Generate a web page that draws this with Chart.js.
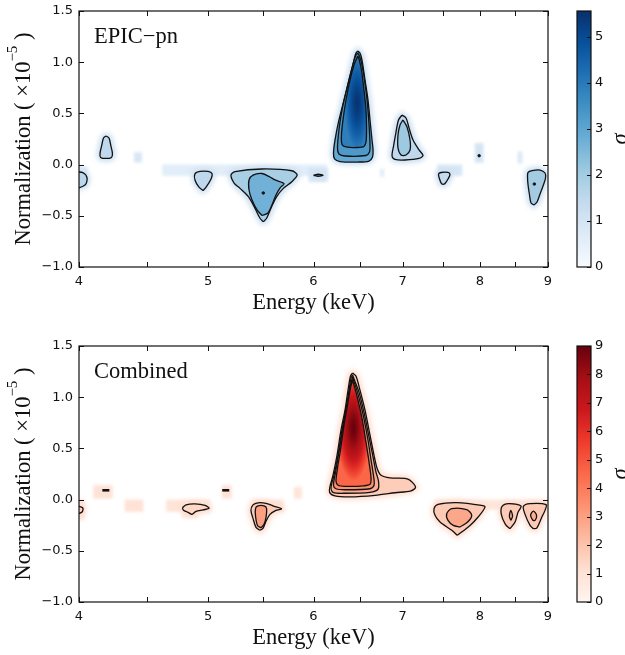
<!DOCTYPE html>
<html>
<head>
<meta charset="utf-8">
<script src="https://cdn.jsdelivr.net/npm/chart.js@4/dist/chart.umd.min.js"></script>
<style>
  body { margin: 0; background: #fff; }
  .panel { position: absolute; left: 0; width: 625px; height: 320px; }
  #pn-panel { top: 0; }
  #comb-panel { top: 335px; }
</style>
</head>
<body>
<div class="panel" id="pn-panel"><canvas id="pn-chart"></canvas></div>
<div class="panel" id="comb-panel"><canvas id="comb-chart"></canvas></div>
<script>
// Axis ticks
const energyTicks = [4, 4.5, 5, 5.5, 6, 6.5, 7, 7.5, 8, 8.5, 9];
const normTicks = [-1.0, -0.5, 0.0, 0.5, 1.0, 1.5];
const pnSigmaTicks = [0, 1, 2, 3, 4, 5];
const combSigmaTicks = [0, 1, 2, 3, 4, 5, 6, 7, 8, 9];
const pnSigmaMax = 5.56;
const combSigmaMax = 9;

// EPIC-pn contours, points are [energy keV, normalization 1e-5]
const pnLine40 = [[3.96,-0.07],[4.03,-0.08],[4.056,-0.13],[4.042,-0.20],[3.96,-0.23]];
const pnLine42 = [[4.191,0.28],[4.213,0.26],[4.227,0.18],[4.238,0.11],[4.231,0.07],[4.191,0.06],[4.152,0.07],[4.148,0.11],[4.159,0.18],[4.173,0.26]];
const pnLine50 = [[4.957,-0.253],[4.922,-0.22],[4.888,-0.15],[4.888,-0.09],[4.931,-0.067],[5.0,-0.067],[5.035,-0.09],[5.026,-0.14],[4.983,-0.22]];
const pnLine55Outer = [[5.501,-0.558],[5.470,-0.524],[5.423,-0.427],[5.361,-0.313],[5.284,-0.232],[5.232,-0.183],[5.202,-0.102],[5.238,-0.069],[5.486,-0.043],[5.779,-0.060],[5.833,-0.102],[5.779,-0.167],[5.695,-0.232],[5.630,-0.313],[5.581,-0.411],[5.533,-0.524]];
const pnLine55Inner = [[5.489,-0.497],[5.442,-0.443],[5.395,-0.346],[5.367,-0.248],[5.367,-0.150],[5.404,-0.102],[5.489,-0.087],[5.565,-0.121],[5.613,-0.150],[5.702,-0.185],[5.662,-0.229],[5.623,-0.297],[5.584,-0.395],[5.546,-0.473]];
const pnLine60 = [[6.00,-0.104],[6.05,-0.094],[6.10,-0.104],[6.05,-0.114]];
const pnLine64Outer = [[6.476,1.109],[6.502,1.090],[6.525,1.021],[6.559,0.826],[6.593,0.631],[6.616,0.436],[6.639,0.240],[6.651,0.143],[6.645,0.074],[6.605,0.035],[6.480,0.025],[6.281,0.030],[6.222,0.055],[6.211,0.113],[6.227,0.240],[6.270,0.436],[6.325,0.631],[6.380,0.826],[6.435,1.021],[6.457,1.090]];
const pnLine64Mid = [[6.476,1.090],[6.496,1.061],[6.525,0.973],[6.553,0.826],[6.582,0.631],[6.605,0.387],[6.616,0.191],[6.610,0.123],[6.570,0.089],[6.336,0.084],[6.270,0.104],[6.254,0.162],[6.270,0.338],[6.303,0.533],[6.358,0.748],[6.413,0.943],[6.452,1.061]];
const pnLine64Inner = [[6.476,1.061],[6.491,1.031],[6.519,0.924],[6.547,0.729],[6.570,0.533],[6.576,0.338],[6.570,0.221],[6.547,0.177],[6.469,0.167],[6.347,0.172],[6.303,0.196],[6.297,0.289],[6.314,0.436],[6.347,0.631],[6.391,0.826],[6.435,0.973],[6.463,1.031]];
const pnLine70Outer = [[6.992,0.484],[7.041,0.455],[7.078,0.357],[7.127,0.240],[7.201,0.143],[7.251,0.089],[7.201,0.060],[7.029,0.045],[6.909,0.050],[6.873,0.084],[6.891,0.182],[6.920,0.318],[6.950,0.436]];
const pnLine70Inner = [[7.004,0.436],[7.053,0.367],[7.090,0.240],[7.090,0.143],[7.041,0.094],[6.980,0.094],[6.944,0.162],[6.944,0.289],[6.968,0.387]];
const pnLine75 = [[7.51,-0.194],[7.486,-0.185],[7.461,-0.141],[7.448,-0.092],[7.48,-0.077],[7.571,-0.077],[7.597,-0.097],[7.571,-0.141],[7.532,-0.185]];
const pnLine88 = [[8.785,-0.395],[8.740,-0.375],[8.717,-0.297],[8.695,-0.199],[8.687,-0.121],[8.695,-0.075],[8.755,-0.058],[8.877,-0.053],[8.954,-0.082],[8.962,-0.131],[8.923,-0.209],[8.877,-0.287],[8.831,-0.365]];

// significance inside each contour (sigma)
const pnContours = [
  { line: pnLine40, sigma: 1.6, halo: true },
  { line: pnLine42, sigma: 1.5, halo: true },
  { line: pnLine50, sigma: 1.5, halo: true },
  { line: pnLine55Outer, sigma: 1.9, halo: true },
  { line: pnLine55Inner, sigma: 2.7 },
  { line: pnLine60, sigma: 2.6, halo: true },
  { line: pnLine64Outer, sigma: 2.9, halo: true },
  { line: pnLine64Mid, sigma: 3.3 },
  { line: pnLine64Inner, core: true },
  { line: pnLine70Outer, sigma: 1.5, halo: true },
  { line: pnLine70Inner, sigma: 2.1 },
  { line: pnLine75, sigma: 1.4, halo: true },
  { line: pnLine88, sigma: 2.0, halo: true }
];
// faint cells: [E min, E max, N min, N max, sigma]
const pnCells = [
  [4.62, 6.14, -0.11, 0.0, 0.6],
  [4.40, 4.46, 0.02, 0.12, 0.9],
  [3.95, 4.06, -0.22, -0.02, 0.9],
  [5.95, 6.15, -0.17, -0.03, 0.9],
  [6.73, 6.78, -0.12, -0.04, 0.6],
  [7.43, 7.76, -0.11, 0.0, 0.9],
  [7.93, 8.05, 0.02, 0.21, 1.0],
  [8.54, 8.61, 0.01, 0.13, 0.8]
];
const pnMarks = [[5.501, -0.277, 'dot'], [7.99, 0.087, 'dot'], [8.79, -0.19, 'dot']];
const pnPeak = [6.47, 0.60, 5.5];

// Combined contours
const combLine40 = [[3.96,-0.056],[4.021,-0.075],[4.028,-0.095],[4.018,-0.124],[3.96,-0.139]];
const combLine49 = [[4.783,-0.080],[4.813,-0.051],[4.888,-0.041],[4.974,-0.056],[5.009,-0.085],[4.957,-0.100],[4.897,-0.114],[4.863,-0.144],[4.829,-0.124],[4.792,-0.105]];
const combLine55Outer = [[5.470,-0.300],[5.432,-0.271],[5.404,-0.183],[5.385,-0.105],[5.404,-0.051],[5.451,-0.031],[5.527,-0.036],[5.594,-0.061],[5.677,-0.090],[5.623,-0.105],[5.565,-0.144],[5.527,-0.212],[5.498,-0.281]];
const combLine55Inner = [[5.479,-0.276],[5.446,-0.252],[5.428,-0.163],[5.428,-0.085],[5.451,-0.061],[5.508,-0.061],[5.532,-0.085],[5.527,-0.173],[5.508,-0.242]];
const combLine64A = [[6.419,1.236],[6.457,1.206],[6.502,1.069],[6.559,0.874],[6.616,0.629],[6.662,0.433],[6.697,0.306],[6.743,0.238],[6.849,0.213],[7.029,0.208],[7.090,0.189],[7.158,0.120],[7.102,0.086],[6.909,0.067],[6.674,0.042],[6.391,0.027],[6.227,0.037],[6.169,0.071],[6.174,0.130],[6.206,0.238],[6.249,0.433],[6.292,0.678],[6.336,0.874],[6.369,1.069],[6.396,1.206]];
const combLine64B = [[6.419,1.216],[6.491,1.050],[6.547,0.854],[6.605,0.610],[6.651,0.414],[6.685,0.267],[6.714,0.179],[6.708,0.101],[6.616,0.071],[6.336,0.062],[6.206,0.071],[6.185,0.120],[6.217,0.238],[6.260,0.433],[6.303,0.678],[6.347,0.893],[6.380,1.069],[6.402,1.187]];
const combLine64C = [[6.419,1.197],[6.480,1.030],[6.536,0.835],[6.593,0.580],[6.628,0.385],[6.657,0.228],[6.662,0.140],[6.616,0.106],[6.336,0.096],[6.238,0.106],[6.211,0.140],[6.233,0.267],[6.270,0.463],[6.314,0.698],[6.363,0.923],[6.391,1.089]];
const combLine64D = [[6.419,1.167],[6.469,1.011],[6.525,0.795],[6.570,0.561],[6.605,0.365],[6.628,0.208],[6.616,0.150],[6.547,0.135],[6.336,0.130],[6.260,0.140],[6.238,0.179],[6.254,0.306],[6.286,0.482],[6.325,0.727],[6.363,0.923],[6.396,1.089]];
const combLine77Outer = [[7.694,-0.349],[7.620,-0.300],[7.467,-0.219],[7.403,-0.153],[7.390,-0.088],[7.441,-0.046],[7.686,-0.029],[8.023,-0.056],[8.071,-0.073],[7.976,-0.170],[7.865,-0.252]];
const combLine77Inner = [[7.730,-0.268],[7.641,-0.252],[7.571,-0.203],[7.554,-0.137],[7.620,-0.088],[7.820,-0.098],[7.888,-0.153],[7.833,-0.219]];
const combLine84Outer = [[8.428,-0.284],[8.361,-0.242],[8.302,-0.144],[8.313,-0.066],[8.409,-0.039],[8.590,-0.063],[8.545,-0.124],[8.502,-0.219]];
const combLine84Inner = [[8.439,-0.203],[8.419,-0.163],[8.439,-0.105],[8.465,-0.163]];
const combLine88Outer = [[8.775,-0.284],[8.725,-0.252],[8.650,-0.144],[8.625,-0.066],[8.725,-0.039],[8.970,-0.049],[8.954,-0.105],[8.905,-0.170],[8.827,-0.278]];
const combLine88Inner = [[8.766,-0.203],[8.733,-0.153],[8.775,-0.112],[8.824,-0.153],[8.801,-0.203]];

const combContours = [
  { line: combLine40, sigma: 1.5, halo: true },
  { line: combLine49, sigma: 1.4, halo: true },
  { line: combLine55Outer, sigma: 1.8, halo: true },
  { line: combLine55Inner, sigma: 3.0 },
  { line: combLine64A, sigma: 1.7, halo: true },
  { line: combLine64B, sigma: 2.6 },
  { line: combLine64C, sigma: 3.4 },
  { line: combLine64D, core: true },
  { line: combLine77Outer, sigma: 1.8, halo: true },
  { line: combLine77Inner, sigma: 2.8 },
  { line: combLine84Outer, sigma: 1.8, halo: true },
  { line: combLine84Inner, sigma: 2.6 },
  { line: combLine88Outer, sigma: 1.8, halo: true },
  { line: combLine88Inner, sigma: 2.6 }
];
const combCells = [
  [3.95, 4.04, -0.20, 0.0, 1.0],
  [4.10, 4.24, 0.01, 0.14, 1.0],
  [4.33, 4.47, -0.12, 0.0, 1.0],
  [4.65, 5.02, -0.12, 0.0, 0.9],
  [4.78, 4.92, -0.18, -0.10, 0.8],
  [5.12, 5.21, 0.01, 0.14, 1.0],
  [5.39, 5.70, -0.12, 0.0, 1.0],
  [5.80, 5.88, 0.01, 0.125, 0.9],
  [7.40, 9.05, -0.10, 0.0, 0.8]
];
const combMarks = [[4.19, 0.091, 'dash'], [5.155, 0.091, 'dash']];
const combPeak = [6.43, 0.70, 9.0];

// matplotlib Blues / Reds
const BLUES = ['#f7fbff','#deebf7','#c6dbef','#9ecae1','#6baed6','#4292c6','#2171b5','#08519c','#08306b'];
const REDS = ['#fff5f0','#fee0d2','#fcbba1','#fc9272','#fb6a4a','#ef3b2c','#cb181d','#a50f15','#67000d'];

const SERIF = '"Liberation Serif", "Times New Roman", serif';
const INK = '#111';
const LABEL_SIZE = 22.5;

function hexToRgb(h) {
    const n = parseInt(h.slice(1), 16);
    return [n >> 16, (n >> 8) & 255, n & 255];
}

function cmap(stops, t) {
    t = Math.max(0, Math.min(1, t));
    const pos = t * (stops.length - 1);
    const i = Math.min(Math.floor(pos), stops.length - 2);
    const f = pos - i;
    const a = hexToRgb(stops[i]), b = hexToRgb(stops[i + 1]);
    const c = a.map((v, k) => Math.round(v + (b[k] - v) * f));
    return `rgb(${c[0]}, ${c[1]}, ${c[2]})`;
}

function closeLine(line) {
    return line.concat([line[0]]).map(p => ({ x: p[0], y: p[1] }));
}

// Elliptical shading for the strongest region of a panel
function coreFill(chart, panel, line) {
    const edge = cmap(panel.stops, panel.coreEdge / panel.max);
    const { x, y } = chart.scales;
    if (!chart.chartArea || !x || !y) return edge;
    const [pe, pn, ps] = panel.peak;
    const cx = x.getPixelForValue(pe), cy = y.getPixelForValue(pn);
    const xs = line.map(p => x.getPixelForValue(p[0]));
    const ys = line.map(p => y.getPixelForValue(p[1]));
    const rx = (Math.max(...xs) - Math.min(...xs)) / 2;
    const ry = (Math.max(...ys) - Math.min(...ys)) / 2;
    if (![cx, cy, rx, ry].every(Number.isFinite) || rx <= 0 || ry <= 0) return edge;

    const off = document.createElement('canvas');
    off.width = chart.width;
    off.height = chart.height;
    const g = off.getContext('2d');
    g.fillStyle = edge;
    g.fillRect(0, 0, off.width, off.height);
    g.translate(cx, cy);
    g.scale(rx / ry, 1);
    const grad = g.createRadialGradient(0, 0, 0, 0, 0, ry);
    for (let k = 0; k <= 10; k++) {
        const f = k / 10;
        const s = ps + (panel.coreEdge - ps) * Math.pow(f, 1.4);
        grad.addColorStop(f, cmap(panel.stops, s / panel.max));
    }
    g.fillStyle = grad;
    g.beginPath();
    g.arc(0, 0, ry, 0, Math.PI * 2);
    g.fill();
    return chart.ctx.createPattern(off, 'no-repeat');
}

// Soft low-significance cells and blurred rims around the contours
const softPlugin = {
    id: 'soft',
    beforeDatasetsDraw(chart, args, opts) {
        const { ctx, chartArea: a, scales: { x, y } } = chart;
        ctx.save();
        ctx.beginPath();
        ctx.rect(a.left, a.top, a.width, a.height);
        ctx.clip();
        ctx.filter = 'blur(1.5px)';
        opts.cells.forEach(([e0, e1, n0, n1, s]) => {
            const x0 = x.getPixelForValue(e0), x1 = x.getPixelForValue(e1);
            const y0 = y.getPixelForValue(n1), y1 = y.getPixelForValue(n0);
            ctx.fillStyle = cmap(opts.stops, s / opts.max);
            ctx.fillRect(x0, y0, x1 - x0, y1 - y0);
        });
        ctx.filter = 'blur(2.5px)';
        ctx.lineJoin = 'round';
        opts.contours.filter(c => c.halo).forEach(c => {
            ctx.beginPath();
            c.line.forEach((p, i) => {
                const px = x.getPixelForValue(p[0]), py = y.getPixelForValue(p[1]);
                if (i === 0) ctx.moveTo(px, py); else ctx.lineTo(px, py);
            });
            ctx.closePath();
            ctx.fillStyle = ctx.strokeStyle = cmap(opts.stops, 1.1 / opts.max);
            ctx.lineWidth = 7;
            ctx.stroke();
            ctx.fill();
        });
        ctx.restore();
    }
};

// Frame, inward ticks, colour bar and labels
const decorPlugin = {
    id: 'decor',
    afterDraw(chart, args, opts) {
        const { ctx, chartArea: a, scales: { x, y, cb } } = chart;
        ctx.save();
        ctx.strokeStyle = INK;
        ctx.lineWidth = 1;
        ctx.beginPath();
        energyTicks.forEach(v => {
            const px = Math.round(x.getPixelForValue(v)) + 0.5;
            ctx.moveTo(px, a.bottom); ctx.lineTo(px, a.bottom - 5);
            ctx.moveTo(px, a.top); ctx.lineTo(px, a.top + 5);
        });
        normTicks.forEach(v => {
            const py = Math.round(y.getPixelForValue(v)) + 0.5;
            ctx.moveTo(a.left, py); ctx.lineTo(a.left + 5, py);
            ctx.moveTo(a.right, py); ctx.lineTo(a.right - 5, py);
        });
        ctx.stroke();
        ctx.lineWidth = 1.2;
        ctx.strokeRect(a.left, a.top, a.width, a.height);

        // colour bar
        const bx = a.right + 29, bw = 14;
        const yTop = cb.getPixelForValue(opts.max), yBot = cb.getPixelForValue(0);
        const grad = ctx.createLinearGradient(0, yBot, 0, yTop);
        opts.stops.forEach((c, i) => grad.addColorStop(i / (opts.stops.length - 1), c));
        ctx.fillStyle = grad;
        ctx.fillRect(bx, yTop, bw, yBot - yTop);
        ctx.strokeRect(bx, yTop, bw, yBot - yTop);
        ctx.lineWidth = 1;
        ctx.beginPath();
        opts.sigmaTicks.forEach(v => {
            const py = Math.round(cb.getPixelForValue(v)) + 0.5;
            ctx.moveTo(bx + bw, py); ctx.lineTo(bx + bw - 4, py);
        });
        ctx.stroke();

        ctx.fillStyle = INK;
        // panel name
        ctx.font = `${LABEL_SIZE}px ${SERIF}`;
        ctx.textAlign = 'left';
        ctx.textBaseline = 'alphabetic';
        ctx.fillText(opts.label, a.left + 15, a.top + 32);

        // y axis title with superscript exponent
        const parts = [['Normalization ( ×10', `${LABEL_SIZE}px ${SERIF}`, 0], ['−5', `15px ${SERIF}`, -13], [' )', `${LABEL_SIZE}px ${SERIF}`, 0]];
        ctx.save();
        ctx.translate(30, (a.top + a.bottom) / 2);
        ctx.rotate(-Math.PI / 2);
        let w = 0;
        parts.forEach(p => { ctx.font = p[1]; w += ctx.measureText(p[0]).width; });
        let pos = -w / 2;
        parts.forEach(p => {
            ctx.font = p[1];
            ctx.fillText(p[0], pos, p[2]);
            pos += ctx.measureText(p[0]).width;
        });
        ctx.restore();

        // colour bar title
        ctx.save();
        ctx.translate(621, (yTop + yBot) / 2);
        ctx.rotate(-Math.PI / 2);
        ctx.font = `italic ${LABEL_SIZE}px ${SERIF}`;
        ctx.textAlign = 'center';
        ctx.textBaseline = 'middle';
        ctx.fillText('σ', 0, 0);
        ctx.restore();

        ctx.restore();
    }
};

function buildDatasets(panel) {
    const datasets = panel.contours.map(c => ({
        data: closeLine(c.line),
        fill: 'shape',
        backgroundColor: c.core ? ctx => coreFill(ctx.chart, panel, c.line) : cmap(panel.stops, c.sigma / panel.max),
        borderColor: INK,
        borderWidth: 1.3,
        pointRadius: 0,
        tension: 0.3
    }));
    datasets.push({
        data: panel.marks.map(m => ({ x: m[0], y: m[1] })),
        showLine: false,
        fill: false,
        pointStyle: panel.marks.map(m => m[2] === 'dash' ? 'line' : 'circle'),
        pointRadius: panel.marks.map(m => m[2] === 'dash' ? 3.5 : 1.3),
        pointBorderWidth: panel.marks.map(m => m[2] === 'dash' ? 2.6 : 0.8),
        pointBorderColor: INK,
        pointBackgroundColor: INK
    });
    // first dataset at the bottom of the stack
    datasets.forEach((d, i) => { d.order = -i; });
    return datasets;
}

// fixed axis box sizes so the plot area lands in the same place on both panels
function fixBox(size) {
    return s => {
        if (s.isHorizontal()) s.height = size; else s.width = size;
        s.paddingTop = s.paddingBottom = s.paddingLeft = s.paddingRight = 0;
    };
}

function buildChart(canvasId, panel) {
    const ctx = document.getElementById(canvasId).getContext('2d');
    const tickFont = { family: 'DejaVu Sans', size: 13 };
    new Chart(ctx, {
        type: 'line',
        data: { datasets: buildDatasets(panel) },
        options: {
            responsive: true,
            maintainAspectRatio: false,
            animation: false,
            events: [],
            layout: { padding: { top: 11, left: 0, right: 0, bottom: 0 }, autoPadding: false },
            scales: {
                x: {
                    type: 'logarithmic',
                    min: 4,
                    max: 9,
                    grid: { display: false, drawTicks: false },
                    border: { display: false },
                    afterBuildTicks: s => { s.ticks = energyTicks.map(v => ({ value: v })); },
                    afterFit: fixBox(53),
                    ticks: {
                        autoSkip: false,
                        maxRotation: 0,
                        padding: 7,
                        font: tickFont,
                        color: INK,
                        callback: v => Number.isInteger(v) ? String(v) : ''
                    },
                    title: {
                        display: true,
                        text: 'Energy (keV)',
                        color: INK,
                        font: { family: SERIF, size: LABEL_SIZE },
                        padding: { top: 0, bottom: 3 }
                    }
                },
                y: {
                    type: 'linear',
                    min: -1,
                    max: 1.5,
                    grid: { display: false, drawTicks: false },
                    border: { display: false },
                    afterBuildTicks: s => { s.ticks = normTicks.map(v => ({ value: v })); },
                    afterFit: fixBox(79),
                    ticks: {
                        padding: 6,
                        font: tickFont,
                        color: INK,
                        callback: v => (v < 0 ? '−' : '') + Math.abs(v).toFixed(1)
                    }
                },
                cb: {
                    type: 'linear',
                    position: 'right',
                    min: 0,
                    max: panel.max,
                    grid: { display: false, drawTicks: false },
                    border: { display: false },
                    afterBuildTicks: s => { s.ticks = panel.sigmaTicks.map(v => ({ value: v })); },
                    afterFit: fixBox(77),
                    ticks: { padding: 47, font: tickFont, color: INK, callback: v => String(v) }
                }
            },
            plugins: {
                legend: { display: false },
                tooltip: { enabled: false },
                soft: { cells: panel.cells, contours: panel.contours, stops: panel.stops, max: panel.max },
                decor: { label: panel.label, stops: panel.stops, max: panel.max, sigmaTicks: panel.sigmaTicks }
            }
        },
        plugins: [softPlugin, decorPlugin]
    });
}

document.addEventListener('DOMContentLoaded', function() {
    buildChart('pn-chart', {
        label: 'EPIC−pn', stops: BLUES, max: pnSigmaMax, sigmaTicks: pnSigmaTicks,
        contours: pnContours, cells: pnCells, marks: pnMarks, peak: pnPeak, coreEdge: 3.9
    });
    buildChart('comb-chart', {
        label: 'Combined', stops: REDS, max: combSigmaMax, sigmaTicks: combSigmaTicks,
        contours: combContours, cells: combCells, marks: combMarks, peak: combPeak, coreEdge: 4.6
    });
});
</script>
</body>
</html>
